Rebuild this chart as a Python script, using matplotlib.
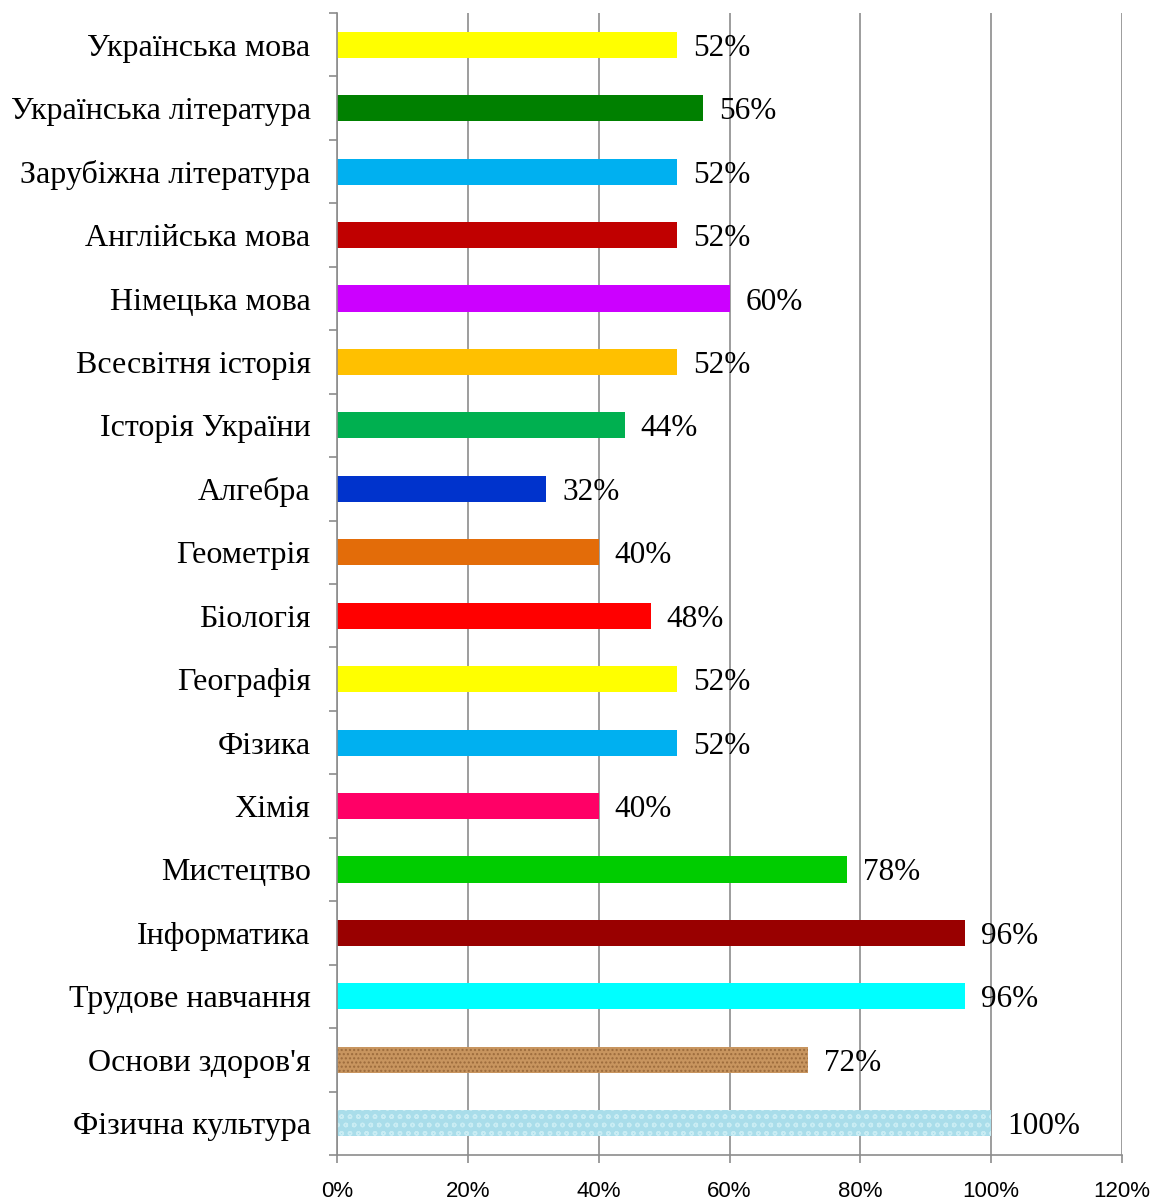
import matplotlib
matplotlib.use("Agg")
import matplotlib.pyplot as plt
from matplotlib.ticker import MultipleLocator, FuncFormatter

subjects = [
    "Українська мова", "Українська література", "Зарубіжна література",
    "Англійська мова", "Німецька мова", "Всесвітня історія",
    "Історія України", "Алгебра", "Геометрія", "Біологія", "Географія",
    "Фізика", "Хімія", "Мистецтво", "Інформатика", "Трудове навчання",
    "Основи здоров'я", "Фізична культура",
]
values = [52, 56, 52, 52, 60, 52, 44, 32, 40, 48, 52, 52, 40, 78, 96, 96, 72, 100]
colors = [
    "#FFFF00", "#008000", "#00B0F0", "#C00000", "#CC00FF", "#FFC000",
    "#00B050", "#0033CC", "#E36C09", "#FF0000", "#FFFF00", "#00B0F0",
    "#FF0066", "#00CC00", "#990000", "#00FFFF", "#C8955F", "#A9DDEA",
]

fig = plt.figure(figsize=(11.6, 12.02), dpi=100)
ax = fig.add_axes([337 / 1160, 1 - 1155 / 1202, 785 / 1160, 1142 / 1202])

ypos = list(range(len(subjects)))
bars = ax.barh(ypos, values, height=0.41, color=colors, zorder=2)
# textured bars in the original: approximate with hatching
bars[16].set_hatch("....")
bars[16].set_edgecolor("#9C6B3C")
bars[16].set_linewidth(0)
bars[17].set_hatch("oo")
bars[17].set_edgecolor("#C9ECF3")
bars[17].set_linewidth(0)

for y, v in zip(ypos, values):
    ax.text(v + 2.4, y, f"{v}%", va="center_baseline", ha="left",
            fontsize=22.5, family="Liberation Serif", zorder=3)

ax.set_xlim(0, 120)
ax.set_ylim(len(subjects) - 0.5, -0.5)
ax.xaxis.set_major_locator(MultipleLocator(20))
ax.xaxis.set_major_formatter(FuncFormatter(lambda x, _: f"{int(x)}%"))
ax.grid(axis="x", color="#8C8C8C", linewidth=1.2, zorder=0)

ax.set_yticks(ypos)
ax.set_yticklabels(subjects, fontsize=23, family="Liberation Serif")
ax.set_yticks([y + 0.5 for y in range(-1, len(subjects))], minor=True)
ax.tick_params(axis="y", which="major", length=0, pad=19)
ax.tick_params(axis="y", which="minor", length=6, color="#8C8C8C", width=1.2)
ax.tick_params(axis="x", length=6, color="#8C8C8C", width=1.2, pad=13,
               labelsize=16)
for lbl in ax.get_xticklabels():
    lbl.set_family("Liberation Sans")

for side in ["top", "right"]:
    ax.spines[side].set_visible(False)
for side in ["left", "bottom"]:
    ax.spines[side].set_color("#8C8C8C")
    ax.spines[side].set_linewidth(1.2)

fig.savefig("out.png", dpi=100)
